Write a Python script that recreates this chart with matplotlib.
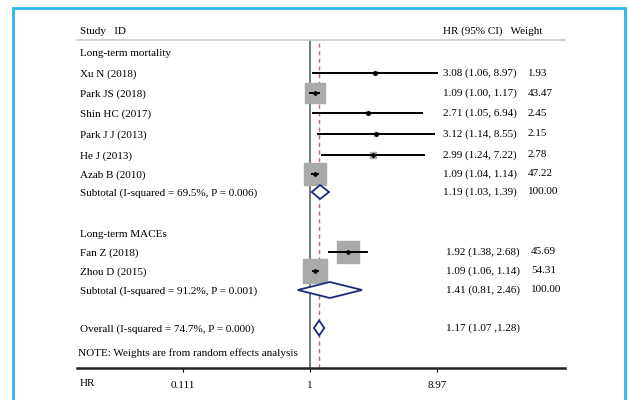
import numpy as np
import matplotlib.pyplot as plt
from matplotlib.patches import Polygon, Rectangle
from matplotlib.transforms import blended_transform_factory

plt.rcParams['font.family'] = ['Liberation Serif', 'DejaVu Serif']
plt.rcParams['font.size'] = 8

# study level data
studies = ['Xu N (2018)', 'Park JS (2018)', 'Shin HC (2017)', 'Park J J (2013)',
           'He J (2013)', 'Azab B (2010)', 'Fan Z (2018)', 'Zhou D (2015)']
hr = [3.08, 1.09, 2.71, 3.12, 2.99, 1.09, 1.92, 1.09]
lo = [1.06, 1.00, 1.05, 1.14, 1.24, 1.04, 1.38, 1.06]
hi = [8.97, 1.17, 6.94, 8.55, 7.22, 1.14, 2.68, 1.14]
weight = [1.93, 43.47, 2.45, 2.15, 2.78, 47.22, 45.69, 54.31]

# pooled estimates
pooled_labels = ['Subtotal (I-squared = 69.5%, P = 0.006)',
                 'Subtotal (I-squared = 91.2%, P = 0.001)',
                 'Overall (I-squared = 74.7%, P = 0.000)']
pooled_hr = [1.19, 1.41, 1.17]
pooled_lo = [1.03, 0.81, 1.07]
pooled_hi = [1.39, 2.46, 1.28]
pooled_weight = ['100.00', '100.00', '']
overall_text = '1.17 (1.07 ,1.28)'

groups = ['Long-term mortality', 'Long-term MACEs']
ticks = [0.111, 1, 8.97]

# row positions (vertical layout, top to bottom)
study_y = [73, 93, 113, 134, 155, 174, 252, 271]
pooled_y = [192, 290, 328]
group_y = [54, 235]

W, H = 628, 400
fig = plt.figure(figsize=(W / 100, H / 100), dpi=100)
ax = fig.add_axes([77 / W, 1 - 368 / H, (565 - 77) / W, (368 - 40) / H])
ax.set_xscale('log')
ax.set_xlim(np.exp((77 - 310) / 57.85), np.exp((565 - 310) / 57.85))
ax.set_ylim(368, 40)

for s in ('left', 'right'):
    ax.spines[s].set_visible(False)
ax.spines['top'].set_color('#c8c8c8')
ax.spines['top'].set_linewidth(1.2)
ax.spines['bottom'].set_linewidth(1.8)
ax.spines['bottom'].set_color('#222222')
ax.set_yticks([])
ax.set_xticks(ticks)
ax.set_xticklabels(['0.111', '1', '8.97'])
ax.xaxis.set_minor_locator(plt.NullLocator())
ax.tick_params(axis='x', direction='out', length=3, width=0.8, pad=6, labelsize=8)

# reference lines
ax.axvline(1, color='#555555', lw=1.1)
ax.axvline(pooled_hr[2], color='#c46a6a', lw=1, ls=(0, (3, 2.5)))

# study boxes and confidence intervals
for e, l, h, w, y in zip(hr, lo, hi, weight, study_y):
    ax.scatter(e, y, s=5.05 * w, marker='s', color='#a9abab', zorder=2)
    ax.plot([l, h], [y, y], color='black', lw=1.4, zorder=3)
    ax.plot(e, y, marker='D', ms=2, color='black', zorder=4)

# pooled diamonds
for e, l, h, y, dh in zip(pooled_hr, pooled_lo, pooled_hi, pooled_y, [14, 16, 15]):
    ax.add_patch(Polygon([[l, y], [e, y - dh / 2], [h, y], [e, y + dh / 2]],
                         closed=True, facecolor='white', edgecolor='#1c2a80',
                         lw=1.3, zorder=3))

# text columns
tr = blended_transform_factory(fig.transFigure, ax.transData)
kw = dict(transform=tr, va='center', clip_on=False)
x_lab, x_ci, x_w = 80 / W, 443 / W, 528 / W

ax.text(x_lab, 31, 'Study   ID', **kw)
ax.text(x_ci, 31, 'HR (95% CI)   Weight', **kw)
for g, y in zip(groups, group_y):
    ax.text(x_lab, y, g, **kw)
for i, (name, y) in enumerate(zip(studies, study_y)):
    xs = x_ci if i < 6 else 446 / W
    xw = x_w if i < 6 else 531 / W
    ax.text(x_lab, y + 1, name, **kw)
    ax.text(xs, y, f'{hr[i]:.2f} ({lo[i]:.2f}, {hi[i]:.2f})', **kw)
    ax.text(xw, y, f'{weight[i]:.2f}', **kw)
for i, (name, y) in enumerate(zip(pooled_labels, pooled_y)):
    xs = x_ci if i == 0 else 446 / W
    xw = x_w if i == 0 else 531 / W
    ax.text(x_lab, y + 1, name, **kw)
    txt = overall_text if i == 2 else f'{pooled_hr[i]:.2f} ({pooled_lo[i]:.2f}, {pooled_hi[i]:.2f})'
    ax.text(xs, y, txt, **kw)
    ax.text(xw, y, pooled_weight[i], **kw)
ax.text(78 / W, 353, 'NOTE: Weights are from random effects analysis', **kw)
ax.text(80 / W, 384, 'HR', **kw)

# outer frame
fig.patches.append(Rectangle((13 / W, -0.05), (625 - 13) / W, 1.05 - 8 / H,
                             transform=fig.transFigure, fill=False,
                             edgecolor='#29b6f0', lw=2))

fig.savefig('out.png', dpi=100)
